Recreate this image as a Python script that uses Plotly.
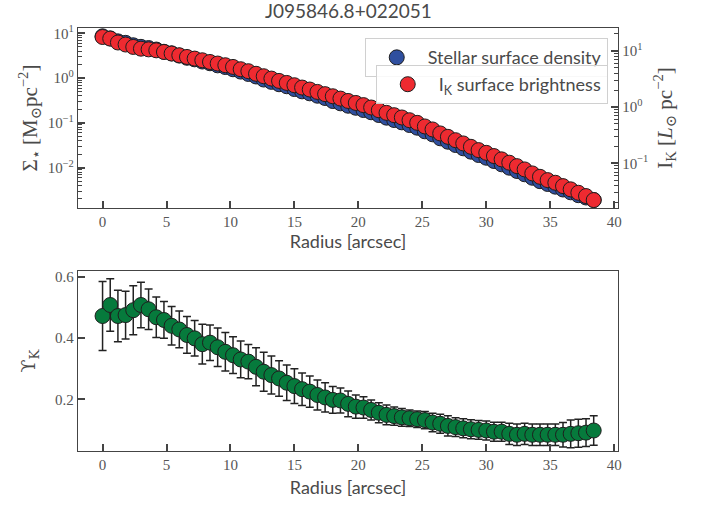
import plotly.graph_objects as go

# ---------------- data ----------------
radius = [0.0, 0.6, 1.2, 1.8, 2.4, 3.0, 3.6, 4.2, 4.8, 5.4,
          6.0, 6.6, 7.2, 7.8, 8.4, 9.0, 9.6, 10.2, 10.8, 11.4,
          12.0, 12.6, 13.2, 13.8, 14.4, 15.0, 15.6, 16.2, 16.8, 17.4,
          18.0, 18.6, 19.2, 19.8, 20.4, 21.0, 21.6, 22.2, 22.8, 23.4,
          24.0, 24.6, 25.2, 25.8, 26.4, 27.0, 27.6, 28.2, 28.8, 29.4,
          30.0, 30.6, 31.2, 31.8, 32.4, 33.0, 33.6, 34.2, 34.8, 35.4,
          36.0, 36.6, 37.2, 37.8, 38.4]

stellar_density = [8.6, 7.73, 6.63, 6.14, 5.42, 5.00, 4.70, 4.35, 3.88, 3.58,
                   3.19, 2.85, 2.63, 2.35, 2.15, 1.93, 1.77, 1.58, 1.40, 1.24,
                   1.09, 0.931, 0.826, 0.731, 0.659, 0.571, 0.507, 0.458, 0.405, 0.360,
                   0.308, 0.274, 0.242, 0.218, 0.194, 0.173, 0.150, 0.131, 0.116, 0.103,
                   0.0897, 0.0782, 0.0649, 0.0557, 0.0453, 0.0380, 0.0321, 0.0271, 0.0228, 0.0192,
                   0.0167, 0.0141, 0.0119, 0.0100, 0.00844, 0.00713, 0.00596, 0.00500, 0.00433, 0.00377,
                   0.00326, 0.00282, 0.00243, 0.00216, 0.00190]

ik_brightness = [17.4, 16.3, 13.9, 12.8, 11.6, 10.8, 10.5, 10.1, 9.44, 8.85,
                 8.26, 7.71, 7.21, 6.73, 6.28, 5.89, 5.50, 5.13, 4.67, 4.31,
                 3.88, 3.51, 3.19, 2.90, 2.67, 2.43, 2.21, 2.04, 1.85, 1.69,
                 1.55, 1.41, 1.28, 1.18, 1.08, 0.98, 0.877, 0.787, 0.716, 0.652,
                 0.583, 0.524, 0.452, 0.400, 0.340, 0.296, 0.258, 0.226, 0.197, 0.172,
                 0.154, 0.135, 0.118, 0.103, 0.0895, 0.0783, 0.0665, 0.0579, 0.0506, 0.0454,
                 0.0396, 0.0347, 0.0302, 0.0264, 0.0224]

upsilon_k = [0.472, 0.508, 0.472, 0.475, 0.491, 0.508, 0.494, 0.468, 0.459, 0.440,
             0.428, 0.410, 0.399, 0.380, 0.385, 0.370, 0.355, 0.344, 0.330, 0.323,
             0.306, 0.290, 0.279, 0.268, 0.254, 0.243, 0.233, 0.225, 0.214, 0.206,
             0.198, 0.196, 0.185, 0.176, 0.173, 0.165, 0.156, 0.149, 0.145, 0.141,
             0.138, 0.135, 0.132, 0.124, 0.120, 0.113, 0.109, 0.105, 0.102, 0.100,
             0.098, 0.094, 0.094, 0.087, 0.084, 0.087, 0.084, 0.084, 0.084, 0.084,
             0.084, 0.087, 0.089, 0.091, 0.098]

upsilon_err = [0.113, 0.086, 0.084, 0.078, 0.080, 0.074, 0.066, 0.066, 0.060, 0.063,
               0.060, 0.060, 0.058, 0.065, 0.058, 0.063, 0.063, 0.060, 0.060, 0.056,
               0.062, 0.064, 0.062, 0.058, 0.058, 0.057, 0.053, 0.051, 0.049, 0.048,
               0.044, 0.041, 0.042, 0.038, 0.035, 0.033, 0.033, 0.032, 0.030, 0.029,
               0.027, 0.027, 0.028, 0.030, 0.031, 0.033, 0.031, 0.031, 0.031, 0.031,
               0.031, 0.031, 0.031, 0.035, 0.035, 0.035, 0.035, 0.035, 0.035, 0.035,
               0.040, 0.045, 0.046, 0.045, 0.048]

x_ticks = [0, 5, 10, 15, 20, 25, 30, 35, 40]
left_log_ticks = [0.01, 0.1, 1, 10]
left_log_text = ["10<sup>−2</sup>", "10<sup>−1</sup>", "10<sup>0</sup>", "10<sup>1</sup>"]
right_log_ticks = [0.1, 1, 10]
right_log_text = ["10<sup>−1</sup>", "10<sup>0</sup>", "10<sup>1</sup>"]
ups_ticks = [0.2, 0.4, 0.6]
ups_text = ["0.2", "0.4", "0.6"]

# ---------------- styling ----------------
BLUE = "#2f4f9f"
RED = "#ee2a30"
GREEN = "#067a3c"
EDGE = "#1e1e1e"
SPINE = "#444444"
TXT = "#4a4a4a"
SANS = "Lato, 'Open Sans', sans-serif"
SERIF = "'Liberation Serif', 'DejaVu Serif', serif"
DVSERIF = "'DejaVu Serif', serif"


def minor_vals(lo_exp, hi_exp):
    vals = []
    for e in range(lo_exp, hi_exp + 1):
        for m in range(2, 10):
            vals.append(m * 10 ** e)
    return vals


fig = go.Figure()

fig.add_trace(go.Scatter(
    x=radius, y=stellar_density, mode="markers", name="Stellar surface density",
    marker=dict(color=BLUE, size=15, line=dict(color=EDGE, width=1)),
    xaxis="x", yaxis="y", legend="legend"))

fig.add_trace(go.Scatter(
    x=radius, y=ik_brightness, mode="markers", name="I<sub>K</sub> surface brightness",
    marker=dict(color=RED, size=15, line=dict(color=EDGE, width=1)),
    xaxis="x", yaxis="y2", legend="legend2"))

fig.add_trace(go.Scatter(
    x=radius, y=upsilon_k, mode="markers", showlegend=False,
    error_y=dict(type="data", array=upsilon_err, color="#222222", thickness=1.5, width=4),
    marker=dict(color=GREEN, size=15, line=dict(color=EDGE, width=1)),
    xaxis="x2", yaxis="y3"))

tickfont = dict(family=SERIF, size=15, color="#555555")
axis_common = dict(showline=True, linecolor=SPINE, linewidth=1.3, ticks="inside",
                   tickcolor=SPINE, ticklen=7, tickwidth=1.5, showgrid=False,
                   zeroline=False, tickfont=tickfont)
minor_axis = dict(showline=False, ticks="inside", tickcolor=SPINE, ticklen=4, tickwidth=1.2,
                  showgrid=False, zeroline=False, showticklabels=False, tickmode="array")

top_dom = [0.5745, 1.0]
bot_dom = [0.0, 0.4255]

legend_common = dict(x=0.981, xanchor="right", yanchor="top", xref="paper", yref="paper",
                     bgcolor="rgba(255,255,255,0.85)", bordercolor="#d0d0d0", borderwidth=1,
                     itemwidth=52, tracegroupgap=0,
                     font=dict(family=SANS, size=18, color=TXT))

LEFT_RANGE = [-2.90, 1.12]
RIGHT_RANGE = [-1.79, 1.40]

fig.update_layout(
    width=711, height=506,
    margin=dict(l=78, r=93, t=28, b=55),
    paper_bgcolor="white", plot_bgcolor="white",
    title=dict(text="J095846.8+022051", x=0.49, xanchor="center", y=0.977,
               yanchor="middle", yref="container",
               font=dict(family=SANS, size=19, color=TXT)),
    xaxis=dict(domain=[0, 1], anchor="y", range=[-1.92, 40.3], mirror=True,
               tickmode="array", tickvals=x_ticks,
               title=dict(text="Radius [arcsec]", font=dict(family=SANS, size=18, color=TXT),
                          standoff=5),
               **axis_common),
    yaxis=dict(domain=top_dom, anchor="x", type="log", range=LEFT_RANGE, mirror=True,
               tickmode="array", tickvals=left_log_ticks, ticktext=left_log_text,
               minor=dict(ticks="inside", ticklen=4, tickcolor=SPINE, tickwidth=1.2,
                          tickmode="array", tickvals=minor_vals(-3, 1), showgrid=False),
               title=dict(text="Σ<sub>⋆</sub> [M<sub>⊙</sub>pc<sup>−2</sup>]",
                          font=dict(family=SERIF, size=21, color=TXT), standoff=4),
               **axis_common),
    yaxis2=dict(anchor="x", overlaying="y", side="right", type="log", range=RIGHT_RANGE,
                tickmode="array", tickvals=right_log_ticks, ticktext=right_log_text,
                minor=dict(ticks="inside", ticklen=4, tickcolor=SPINE, tickwidth=1.2,
                           tickmode="array", tickvals=minor_vals(-2, 1), showgrid=False),
                title=dict(text="I<sub>K</sub> [<i>L</i><sub>⊙</sub> pc<sup>−2</sup>]",
                           font=dict(family=SERIF, size=21, color=TXT), standoff=9),
                **axis_common),
    xaxis2=dict(domain=[0, 1], anchor="y3", range=[-1.92, 40.3], mirror=True,
                tickmode="array", tickvals=x_ticks,
                title=dict(text="Radius [arcsec]", font=dict(family=SANS, size=18, color=TXT),
                           standoff=9),
                **axis_common),
    yaxis3=dict(domain=bot_dom, anchor="x2", range=[0.031, 0.619], mirror=True,
                tickmode="array", tickvals=ups_ticks, ticktext=ups_text,
                title=dict(text="ϒ<sub>K</sub>", font=dict(family=DVSERIF, size=19, color=TXT),
                           standoff=14),
                **axis_common),
    legend=dict(y=0.976, **legend_common),
    legend2=dict(y=0.9125, **legend_common),
)

fig.write_html("out.html")
